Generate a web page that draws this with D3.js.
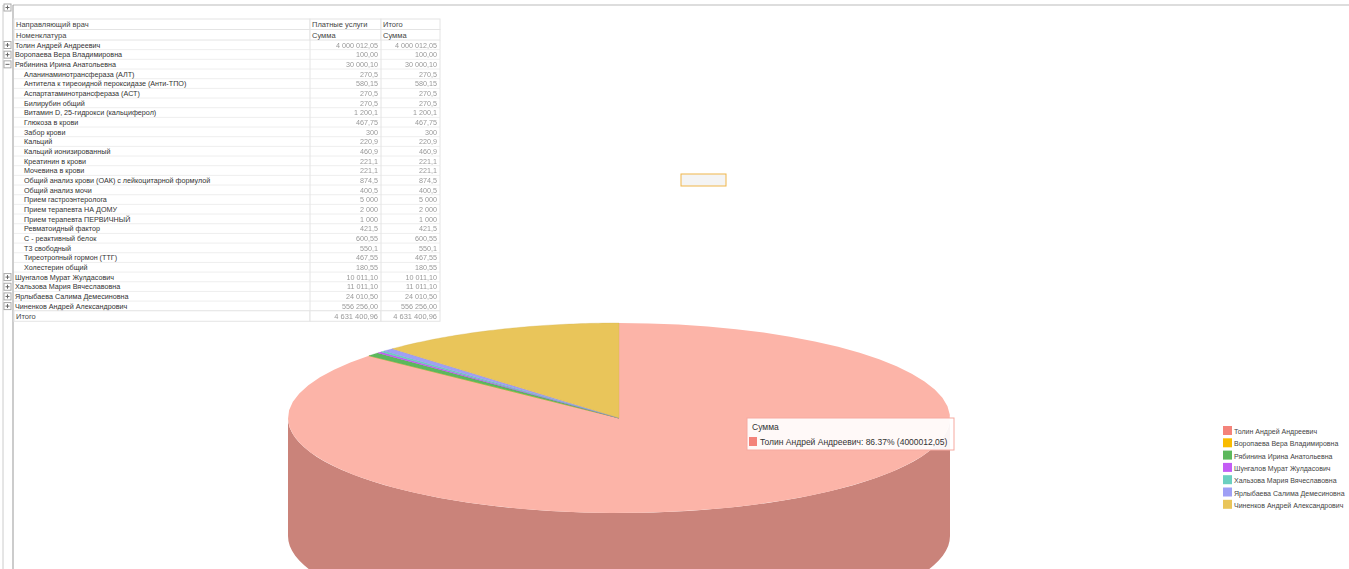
<!DOCTYPE html>
<html><head><meta charset="utf-8">
<script src="https://cdn.jsdelivr.net/npm/d3@7"></script>
<style>body{margin:0;background:#fff;font-family:Arial,"Liberation Sans",sans-serif}</style>
</head><body><div id="chart"></div>
<script>
var width = 1349, height = 569;

// data
var doctors = ["Толин Андрей Андреевич","Воропаева Вера Владимировна","Рябинина Ирина Анатольевна","Шунгалов Мурат Жулдасович","Хальзова Мария Вячеславовна","Ярлыбаева Салима Демесиновна","Чиненков Андрей Александрович"];
var sums = [4000012.05, 100, 30000.1, 10011.1, 11011.1, 24010.5, 556256.0];
var colors = ["#f4837a","#f9bc00","#5cb85c","#c35cf5","#6ccfc0","#9f9ff5","#e9c55a"];
var services = ["Аланинаминотрансфераза (АЛТ)","Антитела к тиреоидной пероксидазе (Анти-ТПО)","Аспартатаминотрансфераза (АСТ)","Билирубин общий","Витамин D, 25-гидрокси (кальциферол)","Глюкоза в крови","Забор крови","Кальций","Кальций ионизированный","Креатинин в крови","Мочевина в крови","Общий анализ крови (ОАК) с лейкоцитарной формулой","Общий анализ мочи","Прием гастроэнтеролога","Прием терапевта НА ДОМУ","Прием терапевта ПЕРВИЧНЫЙ","Ревматоидный фактор","С - реактивный белок","Т3 свободный","Тиреотропный гормон (ТТГ)","Холестерин общий"];
var serviceSums = ["270,5","580,15","270,5","270,5","1 200,1","467,75","300","220,9","460,9","221,1","221,1","874,5","400,5","5 000","2 000","1 000","421,5","600,55","550,1","467,55","180,55"];
var total = d3.sum(sums);

var svg = d3.select('#chart').append('svg').attr('width', width).attr('height', height)
  .style('font-family','Arial,"Liberation Sans",sans-serif');
svg.append('defs').append('filter').attr('id','blur').append('feGaussianBlur').attr('stdDeviation',0.7);

// frame
svg.append('line').attr('x1',13).attr('x2',width).attr('y1',5).attr('y2',5).attr('stroke','#bbb');
svg.append('line').attr('x1',13).attr('x2',13).attr('y1',5).attr('y2',height).attr('stroke','#999');
svg.append('line').attr('x1',3).attr('x2',3).attr('y1',5).attr('y2',height).attr('stroke','#ccc');
function plus(x,y,minus){
  var g = svg.append('g').attr('transform','translate('+x+','+y+')');
  g.append('rect').attr('width',7).attr('height',7).attr('fill','#fff').attr('stroke','#aaa');
  g.append('line').attr('x1',1.5).attr('x2',5.5).attr('y1',3.5).attr('y2',3.5).attr('stroke','#666');
  if(!minus) g.append('line').attr('x1',3.5).attr('x2',3.5).attr('y1',1.5).attr('y2',5.5).attr('stroke','#666');
}
plus(4,4);

// table
var rowH = 9.67, top0 = 40;
var rows = [];
doctors.forEach(function(d,i){
  rows.push({name:d, v:d3.format(",.2f")(sums[i]).replace(/,/g,' ').replace('.',','), level:0, exp:i==2});
  if(i==2) services.forEach(function(s,j){ rows.push({name:s, v:serviceSums[j], level:1}); });
});
var cols = [14,310,381,440];
function cellRow(y,h){
  for(var c=0;c<3;c++){
    svg.append('rect').attr('x',cols[c]).attr('y',y).attr('width',cols[c+1]-cols[c]).attr('height',h)
      .attr('fill','#fff').attr('stroke','#e4e4e4');
  }
}
cellRow(19,10.5); cellRow(29.5,10.5);
[["Направляющий врач","Платные услуги","Итого"],["Номенклатура","Сумма","Сумма"]].forEach(function(t,i){
  var y = 27 + i*10.5;
  svg.append('text').attr('x',16).attr('y',y).text(t[0]).attr('font-size',7.5).attr('fill','#444');
  svg.append('text').attr('x',312).attr('y',y).text(t[1]).attr('font-size',7.5).attr('fill','#444');
  svg.append('text').attr('x',383).attr('y',y).text(t[2]).attr('font-size',7.5).attr('fill','#444');
});
rows.forEach(function(r,i){
  var y = top0 + i*rowH;
  svg.append('line').attr('x1',14).attr('x2',440).attr('y1',y+rowH).attr('y2',y+rowH).attr('stroke','#eee');
  [310,381,440].forEach(function(x){
    svg.append('line').attr('x1',x).attr('x2',x).attr('y1',y).attr('y2',y+rowH).attr('stroke','#e4e4e4');
  });
  if(r.level==0) plus(4, y+1.5, r.exp);
  svg.append('text').attr('x', r.level ? 24 : 15).attr('y', y+7.5).text(r.name).attr('font-size',7.2).attr('fill','#333');
  [378,437].forEach(function(x){
    svg.append('text').attr('x',x).attr('y',y+7.5).attr('text-anchor','end').text(r.v)
      .attr('font-size',7.2).attr('fill','#999').attr('filter','url(#blur)');
  });
});
var ty = top0 + rows.length*rowH;
cellRow(ty, 10.5);
svg.append('text').attr('x',16).attr('y',ty+8).text('Итого').attr('font-size',7.5).attr('fill','#444');
[378,437].forEach(function(x){
  svg.append('text').attr('x',x).attr('y',ty+8).attr('text-anchor','end').text('4 631 400,96')
    .attr('font-size',7.5).attr('fill','#999').attr('filter','url(#blur)');
});

// small orange box
svg.append('rect').attr('x',681).attr('y',174).attr('width',45).attr('height',12)
  .attr('fill','#f4f4f4').attr('stroke','#f0b64a');

// 3D pie
var cx = 619, cy = 418, rx = 331, ry = 95, depth = 118;
var arcs = d3.pie().sort(null).value(function(d){return d;})(sums);
function pt(a, dy){ return [cx + rx*Math.sin(a), cy - ry*Math.cos(a) + (dy||0)]; }
function topPath(a0,a1){
  var p = "M"+cx+","+cy, n = 60;
  for(var k=0;k<=n;k++){ var q = pt(a0+(a1-a0)*k/n); p += "L"+q[0]+","+q[1]; }
  return p+"Z";
}
function sidePath(a0,a1){
  var lo = Math.max(a0, Math.PI/2), hi = Math.min(a1, 3*Math.PI/2);
  if(hi<=lo) return null;
  var p = "", n = 60, k, q;
  for(k=0;k<=n;k++){ q = pt(lo+(hi-lo)*k/n); p += (k?"L":"M")+q[0]+","+q[1]; }
  for(k=n;k>=0;k--){ q = pt(lo+(hi-lo)*k/n, depth); p += "L"+q[0]+","+q[1]; }
  return p+"Z";
}
arcs.forEach(function(a,i){
  var s = sidePath(a.startAngle, a.endAngle);
  if(s) svg.append('path').attr('d',s).attr('fill', i==0 ? "#ca837a" : d3.color(colors[i]).darker(0.6));
});
arcs.forEach(function(a,i){
  svg.append('path').attr('d',topPath(a.startAngle,a.endAngle))
    .attr('fill', i==0 ? "#fcb4a8" : colors[i]).attr('stroke', i==0?'none':d3.color(colors[i]).darker(0.3)).attr('stroke-width',0.3);
});

// tooltip
var tt = svg.append('g').attr('transform','translate(747,418)');
tt.append('rect').attr('width',207).attr('height',32).attr('fill','#fff').attr('fill-opacity',0.92).attr('stroke','#f6a9a0');
tt.append('text').attr('x',5).attr('y',12).text('Сумма').attr('font-size',8.5).attr('fill','#333');
tt.append('rect').attr('x',2).attr('y',19).attr('width',8).attr('height',9).attr('fill',colors[0]);
tt.append('text').attr('x',13).attr('y',27).attr('font-size',8.5).attr('fill','#333')
  .text(doctors[0]+': '+(sums[0]/total*100).toFixed(2)+'% (4000012,05)');

// legend
var lg = svg.append('g').attr('transform','translate(1223,426)');
doctors.forEach(function(d,i){
  var g = lg.append('g').attr('transform','translate(0,'+(i*12.3)+')');
  g.append('rect').attr('width',9).attr('height',9).attr('fill',colors[i]);
  g.append('text').attr('x',11).attr('y',8).text(d).attr('font-size',7).attr('fill','#444');
});
</script></body></html>
